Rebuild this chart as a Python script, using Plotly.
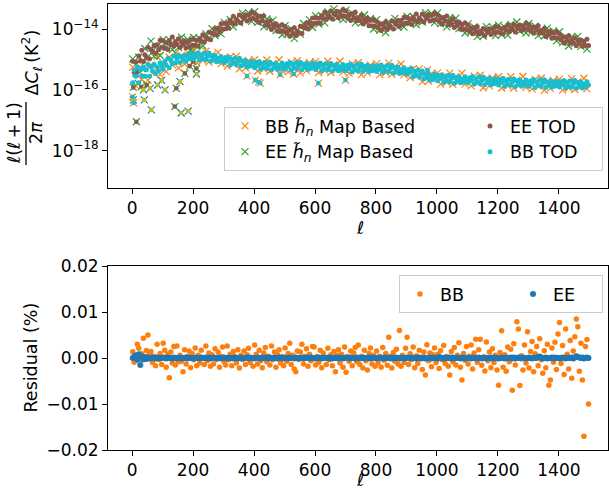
import plotly.graph_objects as go

FONT = "DejaVu Sans"

# ---------------- data ----------------
ell_tod = list(range(2, 1500, 5))   # 300 multipoles for TOD dots / residuals
ell_map = list(range(2, 1500, 10))  # 150 multipoles for map-based crosses

ee_tod_log10 = [
    -15.06, -15.42, -15.09, -15.41, -14.89, -15.05,
    -14.70, -15.07, -14.85, -14.93, -14.60, -14.98,
    -14.67, -14.74, -14.55, -14.80, -14.52, -14.68,
    -14.37, -14.60, -14.39, -14.63, -14.45, -14.67, -14.38, -14.51, -14.26, -14.57,
    -14.42, -14.50, -14.32, -14.60, -14.42, -14.50, -14.39, -14.62, -14.44,
    -14.59, -14.35, -14.53, -14.34, -14.53, -14.38, -14.56, -14.31, -14.40,
    -14.19, -14.43, -14.28, -14.32, -14.11, -14.35, -14.13, -14.17,
    -14.00, -14.19, -13.97, -14.09, -13.83, -14.00,
    -13.81, -13.99, -13.82, -13.97,
    -13.71, -13.80, -13.58, -13.83, -13.68,
    -13.74, -13.54, -13.80, -13.60, -13.66, -13.53, -13.74, -13.54, -13.68,
    -13.44, -13.65, -13.49, -13.71, -13.59, -13.79,
    -13.58, -13.73, -13.57, -13.87, -13.79, -13.89,
    -13.73, -14.02, -13.85, -13.93, -13.83, -14.07, -13.90, -14.07,
    -13.86, -14.07, -13.92, -14.15, -14.03, -14.24, -14.02, -14.15,
    -13.96, -14.21, -14.07, -14.12, -13.91, -14.15,
    -13.94, -13.97, -13.81, -14.00, -13.77,
    -13.89, -13.64, -13.81, -13.62, -13.80, -13.65, -13.81,
    -13.56, -13.65, -13.44, -13.69, -13.56, -13.61,
    -13.41, -13.67, -13.48, -13.54, -13.42, -13.63, -13.44, -13.58,
    -13.36, -13.57, -13.41, -13.63, -13.52, -13.72, -13.50, -13.63, -13.45, -13.73,
    -13.63, -13.72, -13.54, -13.83, -13.66, -13.75, -13.65, -13.89,
    -13.72, -13.89, -13.69, -13.91,
    -13.75, -13.97, -13.85, -14.05, -13.83, -13.95,
    -13.76, -14.02, -13.89, -13.94, -13.74, -14.00,
    -13.79, -13.85, -13.72, -13.92, -13.72, -13.86, -13.61, -13.80,
    -13.62, -13.81, -13.67, -13.85, -13.61, -13.71, -13.51, -13.77,
    -13.64, -13.70, -13.51, -13.77, -13.58, -13.64,
    -13.52, -13.74, -13.56, -13.71, -13.48, -13.69,
    -13.53, -13.75, -13.63, -13.84, -13.62, -13.74,
    -13.57, -13.85, -13.75, -13.84, -13.66, -13.95,
    -13.78, -13.87, -13.77, -14.01, -13.84, -14.01, -13.80, -14.02,
    -13.87, -14.08, -13.97, -14.16, -13.96, -14.08, -13.92, -14.17, -14.07, -14.14,
    -13.98, -14.22, -14.04, -14.10, -13.99, -14.18, -14.01, -14.13, -13.92, -14.10,
    -13.94, -14.12, -13.99, -14.16, -13.94, -14.04, -13.86, -14.09, -13.97, -14.02,
    -13.85, -14.10, -13.91, -13.98, -13.87, -14.06, -13.89, -14.02,
    -13.81, -14.01, -13.86, -14.06, -13.95, -14.14, -13.94, -14.04,
    -13.89, -14.14, -14.05, -14.13, -13.98, -14.25,
    -14.09, -14.17, -14.08, -14.30, -14.14, -14.29, -14.09, -14.30,
    -14.16, -14.36, -14.26, -14.46, -14.26, -14.38,
    -14.22, -14.47, -14.37, -14.45, -14.29, -14.55,
    -14.38, -14.46, -14.36, -14.57, -14.40, -14.54, -14.34, -14.54,
]

bb_tod_log10 = [
    -15.77, -15.35, -15.55, -15.24, -15.77, -15.35,
    -15.54, -15.25, -15.55, -15.34, -15.17, -15.55, -15.24, -15.38, -15.17, -15.47, -15.25, -15.37,
    -15.11, -15.23, -15.32, -15.07, -15.18, -14.97, -15.27, -15.01, -15.14, -14.89,
    -15.11, -14.97, -14.86, -15.10, -14.91, -15.00, -14.86, -15.04, -14.90, -14.98, -14.80,
    -14.90, -14.99, -14.82, -14.92, -14.78, -15.03, -14.86, -14.97, -14.80, -15.01, -14.89,
    -14.79, -15.05, -14.88, -14.99, -14.87, -15.08, -14.96, -15.06, -14.90, -15.01, -15.11,
    -14.94, -15.05, -14.92, -15.18, -15.00, -15.12, -14.96, -15.17,
    -15.05, -14.96, -15.22, -15.05, -15.16, -15.04, -15.25, -15.13, -15.22,
    -15.06, -15.18, -15.27, -15.10, -15.20, -15.07, -15.32, -15.15, -15.26, -15.10, -15.30, -15.19,
    -15.09, -15.34, -15.16, -15.26, -15.13, -15.33, -15.20, -15.29, -15.12, -15.23,
    -15.32, -15.14, -15.24, -15.10, -15.35, -15.17, -15.28, -15.11, -15.31, -15.19,
    -15.09, -15.34, -15.16, -15.26, -15.13, -15.33, -15.20, -15.29,
    -15.12, -15.23, -15.33, -15.15, -15.25, -15.12, -15.37, -15.19, -15.31, -15.14, -15.34, -15.23,
    -15.13, -15.38, -15.20, -15.30, -15.17, -15.37, -15.25, -15.34, -15.17,
    -15.28, -15.37, -15.19, -15.30, -15.16, -15.41, -15.23, -15.34, -15.17,
    -15.37, -15.25, -15.15, -15.40, -15.23, -15.33, -15.20, -15.40, -15.28, -15.37, -15.20, -15.31,
    -15.40, -15.22, -15.32, -15.18, -15.43, -15.26, -15.37, -15.20, -15.40, -15.28,
    -15.19, -15.45, -15.27, -15.38, -15.26, -15.46, -15.34, -15.43, -15.27, -15.39,
    -15.49, -15.32, -15.43, -15.30, -15.57, -15.40, -15.52, -15.36,
    -15.58, -15.47, -15.38, -15.64, -15.48, -15.59, -15.47, -15.68,
    -15.56, -15.66, -15.49, -15.61, -15.70, -15.53, -15.63, -15.50,
    -15.75, -15.58, -15.69, -15.53, -15.73, -15.62, -15.52, -15.78,
    -15.60, -15.70, -15.57, -15.77, -15.64, -15.74, -15.57, -15.68, -15.77,
    -15.60, -15.70, -15.56, -15.81, -15.64, -15.75, -15.58, -15.79, -15.67,
    -15.58, -15.83, -15.65, -15.75, -15.63, -15.83, -15.70, -15.80, -15.63, -15.74,
    -15.84, -15.66, -15.76, -15.62, -15.88, -15.70, -15.81, -15.65, -15.85, -15.73,
    -15.64, -15.89, -15.71, -15.81, -15.68, -15.88, -15.75, -15.85, -15.68, -15.79,
    -15.88, -15.70, -15.80, -15.66, -15.92, -15.74, -15.85, -15.68, -15.88, -15.76,
    -15.67, -15.92, -15.74, -15.84, -15.71, -15.91, -15.78, -15.87, -15.71, -15.82,
    -15.91, -15.73, -15.83, -15.69, -15.94, -15.77, -15.88, -15.71, -15.91, -15.79,
    -15.69, -15.94, -15.76, -15.87, -15.74, -15.94, -15.81, -15.90, -15.73, -15.84,
]

ee_map_log10 = [
    -14.98, -15.44, -14.92, -15.30, -14.64, -14.91, -14.40, -14.90, -14.57, -14.87,
    -14.35, -14.60, -14.36, -14.68, -14.38, -14.61, -14.27, -14.53, -14.34, -14.69,
    -14.28, -14.57, -14.32, -14.55, -14.16, -14.30, -13.99, -14.22, -14.02, -14.16,
    -13.78, -13.94, -13.69, -13.93, -13.65, -13.80, -13.48, -13.66, -13.47, -13.75,
    -13.43, -13.78, -13.59, -13.93, -13.67, -13.92, -13.71, -14.05, -13.95, -14.19,
    -13.89, -14.15, -14.00, -14.31, -14.04, -14.17, -13.82, -13.94, -13.70, -13.95,
    -13.56, -13.84, -13.57, -13.80, -13.44, -13.60, -13.34, -13.64, -13.49, -13.69,
    -13.38, -13.64, -13.48, -13.80, -13.60, -13.80, -13.54, -13.78, -13.65, -14.00,
    -13.69, -14.04, -13.84, -14.12, -13.77, -13.93, -13.65, -13.94, -13.77, -13.94,
    -13.59, -13.79, -13.59, -13.86, -13.61, -13.77, -13.46, -13.65, -13.49, -13.79,
    -13.47, -13.82, -13.63, -13.93, -13.63, -13.85, -13.64, -13.99, -13.89, -14.13,
    -13.83, -14.09, -13.93, -14.25, -14.04, -14.23, -13.92, -14.11, -13.93, -14.22,
    -13.87, -14.18, -13.94, -14.20, -13.85, -14.03, -13.77, -14.07, -13.93, -14.13,
    -13.82, -14.07, -13.91, -14.22, -14.02, -14.23, -13.97, -14.20, -14.06, -14.39,
    -14.09, -14.45, -14.26, -14.56, -14.25, -14.47, -14.24, -14.57, -14.44, -14.66,
]

bb_map_log10 = [
    -15.26, -15.87, -15.39, -15.66, -15.07, -15.69, -15.18, -15.42, -14.90, -15.49,
    -15.16, -15.40, -14.93, -15.18, -14.79, -15.28, -14.88, -15.15, -14.78, -14.95,
    -14.73, -15.10, -14.85, -15.03, -14.73, -15.09, -14.85, -15.02, -14.77, -15.14,
    -14.99, -15.22, -14.92, -15.15, -14.90, -15.31, -15.04, -15.28, -15.04, -15.20,
    -15.01, -15.38, -15.14, -15.32, -15.02, -15.39, -15.13, -15.28, -15.01, -15.36,
    -15.20, -15.41, -15.09, -15.31, -15.04, -15.44, -15.15, -15.37, -15.11, -15.26,
    -15.07, -15.43, -15.19, -15.37, -15.06, -15.43, -15.17, -15.32, -15.06, -15.41,
    -15.25, -15.46, -15.15, -15.37, -15.10, -15.50, -15.22, -15.44, -15.19, -15.34,
    -15.14, -15.50, -15.26, -15.43, -15.12, -15.49, -15.24, -15.41, -15.15, -15.51,
    -15.37, -15.60, -15.31, -15.55, -15.31, -15.73, -15.47, -15.71, -15.47, -15.63,
    -15.44, -15.81, -15.57, -15.75, -15.45, -15.82, -15.57, -15.72, -15.45, -15.81,
    -15.65, -15.87, -15.55, -15.78, -15.52, -15.93, -15.64, -15.87, -15.61, -15.77,
    -15.57, -15.94, -15.69, -15.87, -15.57, -15.94, -15.68, -15.83, -15.56, -15.92,
    -15.76, -15.97, -15.66, -15.88, -15.61, -16.02, -15.73, -15.95, -15.69, -15.85,
    -15.65, -16.01, -15.76, -15.94, -15.63, -15.99, -15.73, -15.89, -15.62, -15.97,
]

# scattered points off the bands
bb_out_ell = [2, 5, 377, 404, 415, 420, 486, 530, 611, 700, 969]
bb_out_log10 = [-16.23, -16.43, -15.55, -15.68, -15.74, -15.78, -15.50, -15.48, -15.78, -15.68, -15.35]
ee_out_ell = [4, 14, 30, 48, 140, 145, 173, 189, 200, 211]
ee_out_log10 = [-15.92, -17.05, -15.90, -15.84, -16.55, -15.95, -15.46, -15.22, -15.07, -15.30]
neg_ell = [4, 20, 37, 40, 59, 63, 84, 97, 108, 157, 161, 184, 211]
neg_log10 = [-16.33, -15.79, -16.00, -16.33, -15.95, -16.66, -15.84, -15.69, -16.00, -15.73, -16.76, -16.70, -15.48]

# residuals, in units of 1e-3 %
bb_residual_e3 = [
    1.35, -0.9, 0.45, 3.0, 2.1, -0.3, 0.9, 4.3, 0.15, 1.65, 5.0, 0.75,
    1.4, -1.0, 0.4, -1.7, 3.0, -0.3, 1.0, -1.4, 3.2, 1.7, -2.0, 0.8, -4.3, 1.3, -1.1, 2.5, -1.5, 2.6, -0.8, 0.6,
    -0.7, -3.0, 1.8, -1.3, 0.3, 1.5, -2.1, 1.0, -0.4, 2.2, -1.7, 0.6, -1.1, 1.7, 0.1, -1.4, 2.6, -0.6, 1.1, -1.8,
    0.7, -1.3, 2.0, -0.3, 1.3, -2.0, 0.4, 2.4, -0.8, -1.5, 2.6, -0.4, 0.8, -1.7, 1.4, 0.3, -1.1, 1.8, -2.2, 0.6,
    -0.3, 1.5, -1.4, 0.7, 2.1, -1.0, 0.1, -1.8, 2.8, 0.8, -1.3, 1.7, -0.6, -2.1, 1.1, 2.3, -0.8, 0.4, -1.5, 2.6,
    -0.4, 1.3, -2.0, 0.7, 1.8, -1.1, 0.3, -1.7, 2.2, -0.7, 1.0, 3.2, -1.4, 0.6, -2.4, -3.0, 1.5, -0.3, 1.3, 3.0,
    -1.3, 0.4, 2.0, -1.8, 0.8, -0.6, 2.5, 2.4, -1.5, 0.3, -1.0, 1.7, -2.1, 1.1, 0.1, -1.4, 2.1, -0.4, 0.7, -1.7,
    1.4, -3.0, 0.6, 1.8, -1.1, 0.8, -2.0, 2.4, -3.1, 0.3, -0.7, 1.5, -1.7, 1.1, 2.3, -0.8, 2.8, -1.4, 0.4, -2.2,
    1.7, -0.6, -2.6, 1.0, 2.2, -1.3, 0.6, -1.8,
    1.5, -1.1, 0.4, -2.0, 2.3, -0.5, 1.0, -1.6, 4.5, 0.3, -2.2, 1.2, -0.7, 1.9, -1.3, 6.0, -1.8, 0.6, -1.0, 2.1,
    4.5, -1.4, 0.9, -0.3, 2.4, -2.1, 0.5, -1.2, 1.7, 0.2, -2.5, 1.3, -3.7, 2.9, -0.6, 1.1, -1.9, 0.7, 2.2, -1.0,
    0.8, -2.3, 1.6, -0.4, 2.7, -1.2, 0.3, -1.8, -3.7, 1.4, -0.8, 2.3, -1.5, 0.6, 3.3, -2.0, -4.8, 1.0, -0.5, 2.5,
    -1.3, 0.4, 2.8, -2.4, 1.1, 4.1, -0.9, 1.8, 4.1, -1.6, 0.2, -2.8, 3.5, -0.6, 1.3, -2.1, 2.0, -1.0, 0.6, -2.6,
    -5.9, 1.2, 5.9, -2.0, 0.7, -2.9, 2.4, -0.8, 1.9, -7.0, 3.1, -1.5, 7.9, 6.3, -6.0, 0.5, -2.6, 2.8, -1.1, 5.7,
    -2.2, 1.4, 3.6, -3.0, 0.9, 2.5, -1.7, 4.2, -0.4, -3.3, 1.6, -2.1, 3.0, -5.9, -4.8, 2.2, -0.9, 3.4, -2.5, 5.2,
    7.7, -1.2, 2.7, -3.6, 6.3, 0.8, -2.4, 3.8, -4.4, 1.5, 4.6, 8.5, 6.8, -2.9, 3.2, -4.8, -17.0, 2.5, 4.0, -10.0,
]

ee_residual_e3 = [
    0.0, 0.3, 0.6, -0.4, 0.8, -1.5, 0.4, -0.3, 0.2, -0.2,
    0.1, -0.1, 0.0, 0.1, 0.0, -0.1, 0.1, 0.0, -0.1, 0.0, 0.1, 0.0, -0.1, 0.1, 0.0, 0.0, -0.1, 0.1, 0.0, -0.1,
    0.0, 0.1, -0.1, 0.0, 0.0, 0.1, -0.1, 0.1, 0.0, 0.0, -0.1, 0.0, 0.1, 0.0, -0.1, 0.1, 0.0, 0.0, 0.1, -0.1,
    0.1, -0.1, 0.0, 0.1, 0.0, -0.1, 0.1, 0.0, -0.1, 0.0, 0.1, 0.0, -0.1, 0.1, 0.0, 0.0, -0.1, 0.1, 0.0, -0.1,
    0.0, 0.1, -0.1, 0.0, 0.0, 0.1, -0.1, 0.1, 0.0, 0.0, -0.1, 0.0, 0.1, 0.0, -0.1, 0.1, 0.0, 0.0, 0.1, -0.1,
    0.1, -0.1, 0.0, 0.1, 0.0, -0.1, 0.1, 0.0, -0.1, 0.0, 0.1, 0.0, -0.1, 0.1, 0.0, 0.0, -0.1, 0.1, 0.0, -0.1,
    0.0, 0.1, -0.1, 0.0, 0.0, 0.1, -0.1, 0.1, 0.0, 0.0, -0.1, 0.0, 0.1, 0.0, -0.1, 0.1, 0.0, 0.0, 0.1, -0.1,
    0.1, -0.1, 0.0, 0.1, 0.0, -0.1, 0.1, 0.0, -0.1, 0.0, 0.1, 0.0, -0.1, 0.1, 0.0, 0.0, -0.1, 0.1, 0.0, -0.1,
    0.0, 0.1, -0.1, 0.0, 0.0, 0.1, -0.1, 0.1, 0.0, 0.0, -0.1, 0.0, 0.1, 0.0, -0.1, 0.1, 0.0, 0.0, 0.1, -0.1,
    0.1, -0.1, 0.0, 0.1, 0.0, -0.1, 0.1, 0.0, -0.1, 0.0, 0.1, 0.0, -0.1, 0.1, 0.0, 0.0, -0.1, 0.1, 0.0, -0.1,
    0.0, 0.1, -0.1, 0.0, 0.0, 0.1, -0.1, 0.1, 0.0, 0.0, -0.1, 0.2, 0.1, 0.0, -0.1, 0.1, 0.0, 0.0, 0.1, -0.1,
    0.1, -0.1, 0.0, 0.1, 0.0, -0.1, 0.1, 0.0, -0.1, 0.0, 0.1, 0.0, -0.1, 0.1, 0.0, 0.0, -0.1, 0.1, 0.0, -0.1,
    0.0, 0.1, -0.1, 0.0, 0.0, 0.1, -0.1, 0.1, 0.0, 0.0, -0.1, 0.0, 0.1, 0.0, -0.1, 0.1, 0.0, 0.0, 0.1, -0.1,
    0.1, -0.1, 0.0, 0.1, 0.0, -0.1, 0.1, 0.0, -0.1, 0.0, 0.1, 0.0, -0.1, 0.1, 0.0, 0.0, 0.2, 0.3, 0.1, -0.1,
    0.0, 0.1, -0.1, 0.0, 0.0, 0.1, -0.1, 0.1, 0.0, 0.0, -0.1, 0.0, 0.1, 0.0, -0.1, 0.1, 0.0, 0.0, 0.1, -0.1,
    0.1, 0.4, 0.2, 0.1, 0.0, 0.1, -0.1, 0.0, 0.1, 0.0,
]

xticks = [0, 200, 400, 600, 800, 1000, 1200, 1400]
ytop_ticks = [1e-18, 1e-16, 1e-14]
ytop_text = ["10<sup>\u221218</sup>", "10<sup>\u221216</sup>", "10<sup>\u221214</sup>"]
ybot_ticks = [-0.02, -0.01, 0.0, 0.01, 0.02]
ybot_text = ["\u22120.02", "\u22120.01", "0.00", "0.01", "0.02"]

# ---------------- colours ----------------
C_BLUE, C_ORANGE, C_GREEN = "#1f77b4", "#ff7f0e", "#2ca02c"
C_BROWN, C_OLIVE, C_CYAN = "#8c564b", "#bcbd22", "#17becf"


def lin(v):
    return [10 ** x for x in v]


def xmark(color):
    return dict(symbol="x-thin", size=7, color=color, line=dict(color=color, width=1.2))


def dot(color, size):
    return dict(symbol="circle", size=size, color=color, line=dict(width=0))


fig = go.Figure()
top = dict(xaxis="x", yaxis="y", mode="markers", legend="legend")

fig.add_trace(go.Scatter(x=neg_ell, y=lin(neg_log10), marker=xmark(C_BLUE), showlegend=False, **top))
fig.add_trace(go.Scatter(x=ell_map, y=lin(bb_map_log10), marker=xmark(C_ORANGE),
                         name="BB <i>h\u0303</i><sub><i>n</i></sub> Map Based",
                         legendrank=1, legendwidth=200, **top))
fig.add_trace(go.Scatter(x=bb_out_ell, y=lin(bb_out_log10), marker=xmark(C_ORANGE), showlegend=False, **top))
fig.add_trace(go.Scatter(x=ell_map, y=lin(ee_map_log10), marker=xmark(C_GREEN),
                         name="EE <i>h\u0303</i><sub><i>n</i></sub> Map Based",
                         legendrank=3, legendwidth=200, **top))
fig.add_trace(go.Scatter(x=ee_out_ell, y=lin(ee_out_log10), marker=xmark(C_GREEN), showlegend=False, **top))
fig.add_trace(go.Scatter(x=ell_tod, y=lin(ee_tod_log10), marker=dot(C_BROWN, 5),
                         name="EE TOD", legendrank=2, legendwidth=87, **top))
fig.add_trace(go.Scatter(x=ee_out_ell, y=lin(ee_out_log10), marker=dot(C_BROWN, 4.6), showlegend=False, **top))
fig.add_trace(go.Scatter(x=neg_ell, y=lin(neg_log10), marker=dot(C_OLIVE, 4.6), showlegend=False, **top))
fig.add_trace(go.Scatter(x=ell_tod, y=lin(bb_tod_log10), marker=dot(C_CYAN, 5),
                         name="BB TOD", legendrank=4, legendwidth=87, **top))
fig.add_trace(go.Scatter(x=bb_out_ell, y=lin(bb_out_log10), marker=dot(C_CYAN, 4.6), showlegend=False, **top))

bot = dict(xaxis="x2", yaxis="y2", mode="markers", legend="legend2")
fig.add_trace(go.Scatter(x=ell_tod, y=[v / 1000 for v in bb_residual_e3], marker=dot(C_ORANGE, 5.5),
                         name="BB", legendwidth=68, **bot))
fig.add_trace(go.Scatter(x=ell_tod, y=[v / 1000 for v in ee_residual_e3], marker=dot(C_BLUE, 6),
                         name="EE", legendwidth=44, **bot))

# ---------------- layout ----------------
ML, MR, MT, MB, W, H = 108, 1, 4, 50, 609, 500
PW, PH = W - ML - MR, H - MT - MB


def px(x):
    return (x - ML) / PW


def py(y):
    return (H - MB - y) / PH


axis_common = dict(showline=True, linecolor="black", linewidth=1, mirror=True,
                   ticks="outside", ticklen=5, tickwidth=1, tickcolor="black",
                   showgrid=False, zeroline=False,
                   tickfont=dict(family=FONT, size=17, color="black"))

fig.update_layout(
    width=W, height=H,
    margin=dict(l=ML, r=MR, t=MT, b=MB, autoexpand=False),
    paper_bgcolor="white", plot_bgcolor="white",
    font=dict(family=FONT, size=17, color="black"),
    xaxis=dict(domain=[0, 1], anchor="y", range=[-79, 1561], tickvals=xticks, **axis_common),
    yaxis=dict(domain=[py(188), 1], anchor="x", type="log", range=[-19.227, -13.178],
               tickvals=ytop_ticks, ticktext=ytop_text, **axis_common),
    xaxis2=dict(domain=[0, 1], anchor="y2", range=[-79, 1561], tickvals=xticks, **axis_common),
    yaxis2=dict(domain=[0, py(266)], anchor="x2", range=[-0.02, 0.02],
                tickvals=ybot_ticks, ticktext=ybot_text, **axis_common),
    legend=dict(orientation="h", x=px(603), xanchor="right", y=py(107), yanchor="top",
                bgcolor="rgba(255,255,255,0.8)", bordercolor="#cccccc", borderwidth=1,
                font=dict(family=FONT, size=17.5, color="black")),
    legend2=dict(orientation="h", x=px(603), xanchor="right", y=py(275), yanchor="top",
                 bgcolor="rgba(255,255,255,0.8)", bordercolor="#cccccc", borderwidth=1,
                 font=dict(family=FONT, size=17.5, color="black")),
)

ann_font = dict(family=FONT, size=17.5, color="black")
annotations = [
    dict(text="<i>\u2113</i>", x=px(360), y=py(227.5)),
    dict(text="<i>\u2113</i>", x=px(360), y=py(480)),
    dict(text="Residual (%)", x=px(30), y=py(357.5), textangle=-90),
    dict(text="<i>\u2113</i>(<i>\u2113</i>\u2009+\u20091)", x=px(14), y=py(133), textangle=-90),
    dict(text="2<i>\u03c0</i>", x=px(36), y=py(133), textangle=-90),
    dict(text="\u0394<i>C</i><sub><i>\u2113</i></sub>\u2009(K<sup>2</sup>)", x=px(31.5), y=py(63),
         textangle=-90),
]
for a in annotations:
    fig.add_annotation(xref="paper", yref="paper", showarrow=False, xanchor="center",
                       yanchor="middle", font=ann_font, **a)

fig.add_shape(type="line", xref="paper", yref="paper", x0=px(26), x1=px(26),
              y0=py(102), y1=py(165), line=dict(color="black", width=1.3))

fig.write_html("out.html", config={"displayModeBar": False},
               post_script="document.body.style.margin='0px';")
